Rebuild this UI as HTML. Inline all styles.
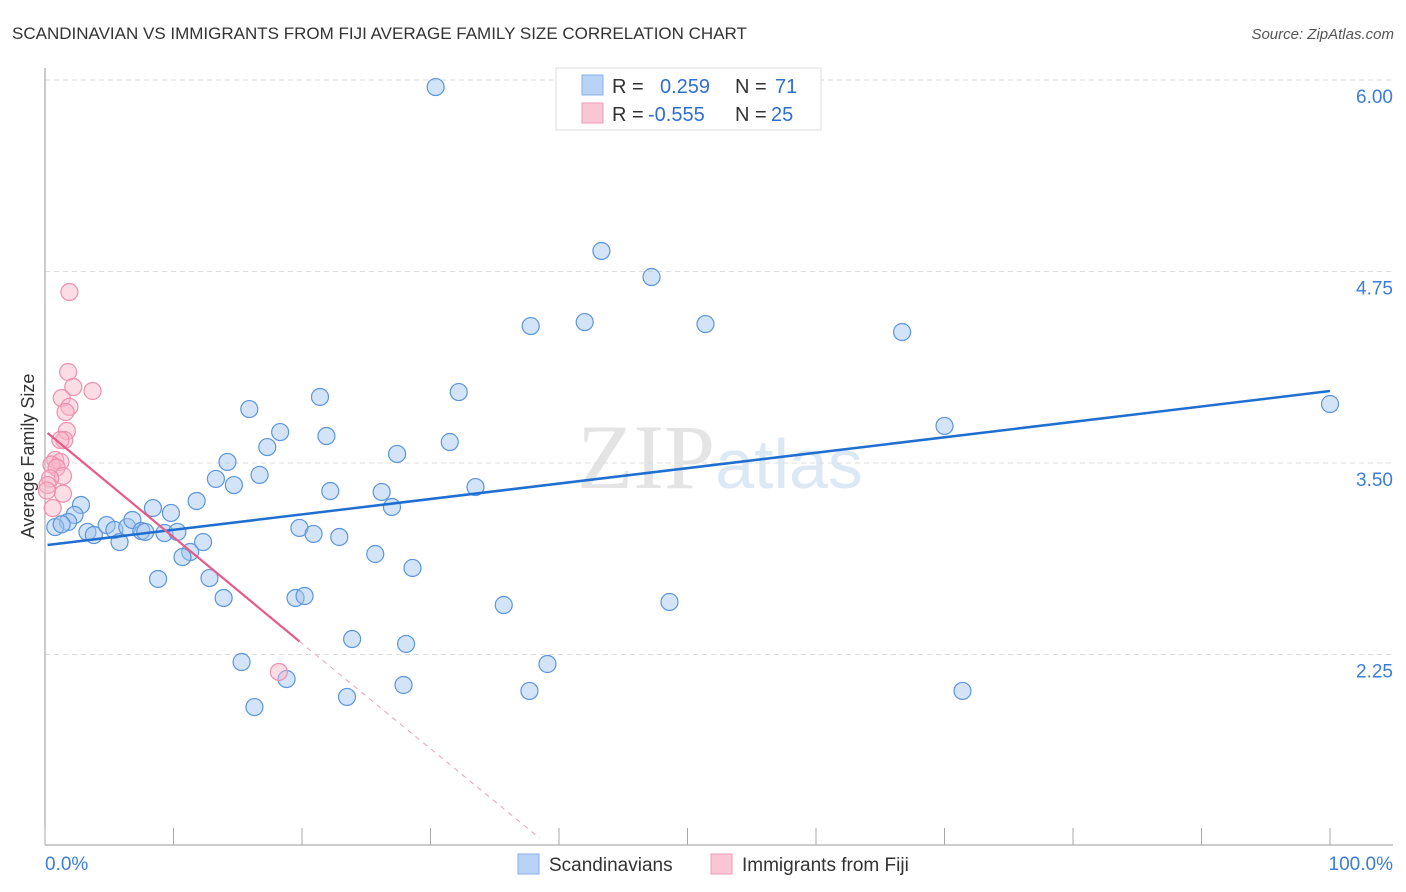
<!DOCTYPE html>
<html><head><meta charset="utf-8"><style>
body{margin:0;background:#fff;font-family:"Liberation Sans",sans-serif;}
svg{display:block}
</style></head><body>
<svg width="1406" height="892" xmlns="http://www.w3.org/2000/svg">
<text x="12" y="39" font-size="17" fill="#333">SCANDINAVIAN VS IMMIGRANTS FROM FIJI AVERAGE FAMILY SIZE CORRELATION CHART</text>
<text x="1394" y="39" font-size="15" fill="#555" font-style="italic" text-anchor="end">Source: ZipAtlas.com</text>
<text x="720" y="488" font-size="92" fill="#e4e4e4" text-anchor="middle" font-family="Liberation Serif,serif">ZIP<tspan fill="#dde8f5" font-family="Liberation Sans,sans-serif" font-size="70">atlas</tspan></text>
<g id="grid"></g>
<g id="axes"></g>
<g id="marks"></g>
<text transform="translate(34,456) rotate(-90)" font-size="18" fill="#333" text-anchor="middle">Average Family Size</text>
<g>
<rect x="556" y="68" width="265" height="62" fill="#fff" stroke="#ddd"/>
<rect x="582" y="75" width="21" height="20" fill="#b8d3f5" stroke="#86b2ea"/>
<rect x="582" y="103" width="21" height="20" fill="#f9c6d6" stroke="#f09ab5"/>
<text x="612" y="93" font-size="20" fill="#333">R = <tspan x="660" fill="#2e6fd0">0.259</tspan><tspan x="735" fill="#333">N = </tspan><tspan x="775" fill="#2e6fd0">71</tspan></text>
<text x="612" y="121" font-size="20" fill="#333">R = <tspan x="648" fill="#2e6fd0">-0.555</tspan><tspan x="735" fill="#333">N = </tspan><tspan x="771" fill="#2e6fd0">25</tspan></text>
</g>
<g>
<rect x="518" y="854" width="21" height="20" fill="#b8d3f5" stroke="#86b2ea"/>
<text x="549" y="871" font-size="19" fill="#333">Scandinavians</text>
<rect x="711" y="854" width="21" height="20" fill="#f9c6d6" stroke="#f09ab5"/>
<text x="742" y="871" font-size="19" fill="#333">Immigrants from Fiji</text>
</g>
</svg>
<script>
const yTicks=[2.25,3.5,4.75,6.0];
const yTickLabels=["2.25","3.50","4.75","6.00"];
const xTicks=[0,10,20,30,40,50,60,70,80,90,100];
const blueX=[30.4,43.3,47.2,37.8,42.0,51.4,66.7,100,32.2,21.4,15.9,70.0,18.3,21.9,17.3,31.5,27.4,14.2,13.3,14.7,16.7,33.5,22.2,26.2,11.8,27.0,8.4,9.8,2.8,2.3,1.8,0.8,1.3,3.3,3.8,4.8,5.4,6.4,6.8,5.8,7.5,7.8,9.3,10.3,12.3,19.8,20.9,22.9,11.3,10.7,25.7,28.6,8.8,12.8,13.9,19.5,20.2,35.7,48.6,23.9,28.1,15.3,39.1,18.8,27.9,37.7,71.4,23.5,16.3];
const blueY=[5.954,4.884,4.714,4.394,4.42,4.407,4.355,3.885,3.963,3.931,3.852,3.742,3.702,3.676,3.604,3.637,3.559,3.507,3.396,3.356,3.422,3.343,3.317,3.311,3.252,3.213,3.206,3.174,3.226,3.161,3.115,3.082,3.10,3.05,3.03,3.095,3.063,3.082,3.128,2.984,3.056,3.05,3.043,3.05,2.984,3.076,3.037,3.017,2.919,2.886,2.906,2.815,2.743,2.749,2.619,2.619,2.632,2.573,2.593,2.351,2.319,2.201,2.188,2.09,2.051,2.012,2.012,1.973,1.907];
const pinkX=[1.9,1.8,2.2,3.7,1.3,1.9,1.6,1.7,1.5,1.2,0.8,1.2,0.5,0.9,1.4,0.4,0.2,1.4,0.15,0.6,18.2];
const pinkY=[4.616,4.094,3.996,3.97,3.924,3.866,3.833,3.709,3.65,3.65,3.52,3.507,3.49,3.47,3.415,3.40,3.356,3.30,3.32,3.206,2.136];
const blueTrend=[2.965,3.970];
const pinkTrend=[3.696,-0.0687];
const pinkSolidEnd=19.8, pinkDashEnd=38.5;

const NS="http://www.w3.org/2000/svg";
const X=p=>45+p*12.85;
const Y=v=>463-(v-3.5)*153.2;
function mk(tag,attrs,parent){const e=document.createElementNS(NS,tag);for(const k in attrs)e.setAttribute(k,attrs[k]);parent.appendChild(e);return e;}
const grid=document.getElementById('grid'),axes=document.getElementById('axes'),marks=document.getElementById('marks');
yTicks.forEach((t,i)=>{
 const l=mk('line',{x1:45,x2:1393,y1:Y(t),y2:Y(t),stroke:'#ddd','stroke-dasharray':'5,4'},grid);
 
 
 const tx=mk('text',{x:1393,y:Y(t)+23,'font-size':19,fill:'#3b7dd8','text-anchor':'end'},axes);
 tx.textContent=yTickLabels[i];
 
 
});
let a=mk('line',{x1:45,x2:45,y1:68,y2:845,stroke:'#999'},axes);


a=mk('line',{x1:45,x2:1393,y1:845,y2:845,stroke:'#999'},axes);


xTicks.forEach(t=>{
 const l=mk('line',{x1:X(t),x2:X(t),y1:828,y2:845,stroke:'#aaa'},axes);
 
 
});
let t1=mk('text',{x:45,y:870,'font-size':19,fill:'#3b7dd8'},axes);t1.textContent='0.0%';


t1=mk('text',{x:1393,y:870,'font-size':19,fill:'#3b7dd8','text-anchor':'end'},axes);t1.textContent='100.0%';


blueX.forEach((x,i)=>{
 const c=mk('circle',{cx:X(x),cy:Y(blueY[i]),r:8.5,fill:'rgba(160,196,240,0.45)',stroke:'#5b95dd','stroke-width':1.2},marks);
 
 
});
pinkX.forEach((x,i)=>{
 const c=mk('circle',{cx:X(x),cy:Y(pinkY[i]),r:8.5,fill:'rgba(248,180,200,0.45)',stroke:'#ee8fae','stroke-width':1.2},marks);
 
 
});
let tl=mk('line',{x1:X(0.2),y1:Y(blueTrend[0]),x2:X(100),y2:Y(blueTrend[1]),stroke:'#1f6fd1','stroke-width':2.5},marks);


tl=mk('line',{x1:X(0.2),y1:Y(pinkTrend[0]),x2:X(pinkSolidEnd),y2:Y(pinkTrend[0]+pinkTrend[1]*pinkSolidEnd),stroke:'#e85a88','stroke-width':2.2},marks);


tl=mk('line',{x1:X(pinkSolidEnd),y1:Y(pinkTrend[0]+pinkTrend[1]*pinkSolidEnd),x2:X(pinkDashEnd),y2:Y(pinkTrend[0]+pinkTrend[1]*pinkDashEnd),stroke:'#eba0b8','stroke-width':1,'stroke-dasharray':'5,5'},marks);


</script>
</body></html>
